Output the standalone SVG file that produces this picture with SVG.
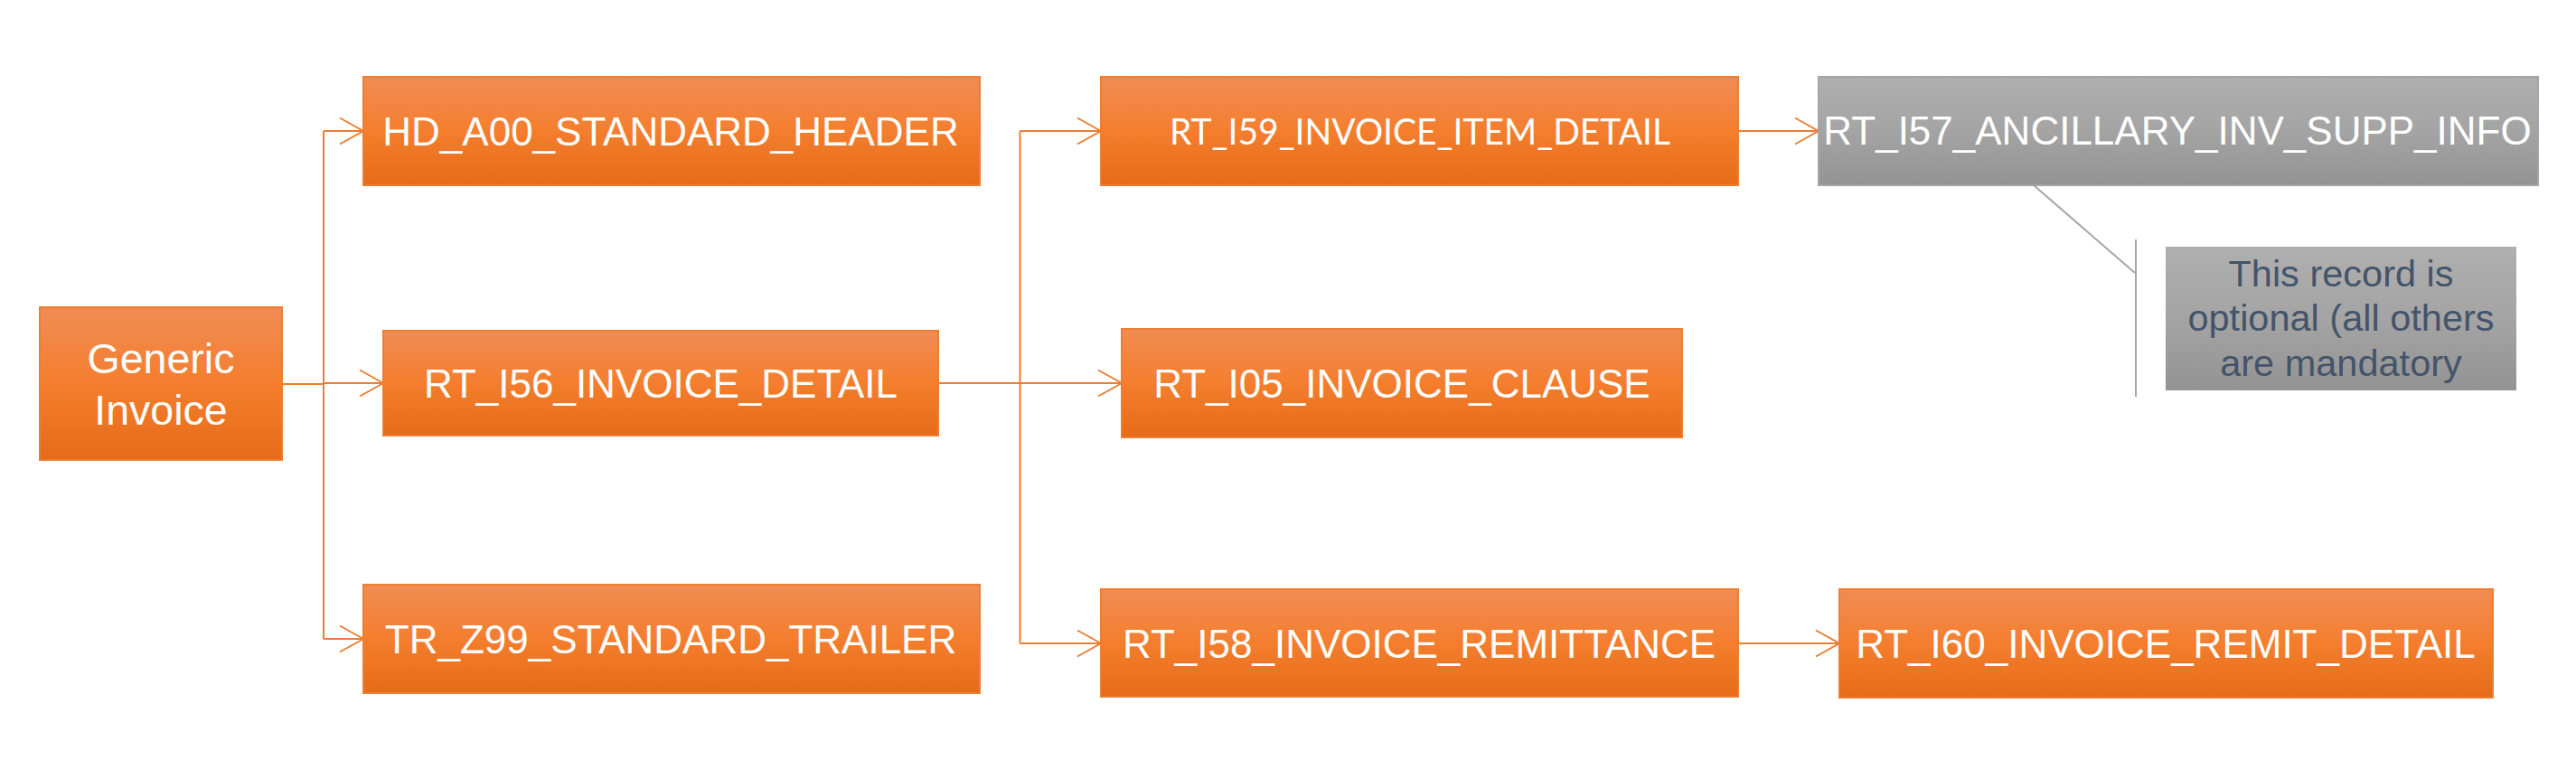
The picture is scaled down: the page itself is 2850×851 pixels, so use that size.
<svg xmlns="http://www.w3.org/2000/svg" width="2850" height="851" viewBox="0 0 2850 851">
<defs>
<linearGradient id="gOr" x1="0" y1="0" x2="0" y2="1">
<stop offset="0" stop-color="#f18c55"/>
<stop offset="0.5" stop-color="#f47e2e"/>
<stop offset="1" stop-color="#e56b17"/>
</linearGradient>
<linearGradient id="gGr" x1="0" y1="0" x2="0" y2="1">
<stop offset="0" stop-color="#afafaf"/>
<stop offset="0.5" stop-color="#a4a4a4"/>
<stop offset="1" stop-color="#939393"/>
</linearGradient>
<marker id="arr" markerUnits="userSpaceOnUse" viewBox="-30 -17 32 34" markerWidth="32" markerHeight="34" refX="0" refY="0" orient="auto">
<path d="M-26,-14.5 L0,0 L-26,14.5" fill="none" stroke="#ed7d31" stroke-width="2"/>
</marker>
<style>
.box{fill:url(#gOr);stroke:#ed7d31;stroke-width:2}
.gbox{fill:url(#gGr);stroke:#a5a5a5;stroke-width:2}
.nbox{fill:url(#gGr)}
.t{font-family:"Liberation Sans",Arial,sans-serif;font-size:44px;fill:#ffffff;text-anchor:middle}
.tc{font-family:Lato,"Open Sans",sans-serif;font-size:41px;fill:#ffffff;text-anchor:middle}
.tn{font-family:"Liberation Sans",Arial,sans-serif;font-size:41.5px;fill:#44546a;text-anchor:middle}
.c{fill:none;stroke:#ed7d31;stroke-width:2}
.ca{fill:none;stroke:#ed7d31;stroke-width:2;marker-end:url(#arr)}
.g{fill:none;stroke:#a6a6a6;stroke-width:2}
</style>
</defs>
<rect width="2850" height="851" fill="#ffffff"/>
<g id="connectors">
<path class="c" d="M312,425 H358"/>
<path class="c" d="M358,145 V707"/>
<path class="ca" d="M358,145 H402"/>
<path class="ca" d="M358,424 H424"/>
<path class="ca" d="M358,707 H402"/>
<path class="c" d="M1038,424 H1128.5"/>
<path class="c" d="M1128.5,145 V712"/>
<path class="ca" d="M1128.5,145 H1218"/>
<path class="ca" d="M1128.5,424 H1241"/>
<path class="ca" d="M1128.5,712 H1218"/>
<path class="ca" d="M1923,145 H2012"/>
<path class="ca" d="M1923,712 H2035"/>
<path class="g" d="M2250,205 L2362,302"/>
<path class="g" d="M2363,265 V439"/>
</g>
<g id="generic-invoice">
<rect class="box" x="44" y="340" width="268" height="169"/>
<text class="t" style="font-size:46.5px" x="178" y="412.5">Generic</text>
<text class="t" style="font-size:46.5px" x="178" y="469.5">Invoice</text>
</g>
<g id="hd-a00">
<rect class="box" x="402" y="85" width="682" height="120"/>
<text class="t" x="742" y="161">HD_A00_STANDARD_HEADER</text>
</g>
<g id="rt-i56">
<rect class="box" x="424" y="366" width="614" height="116"/>
<text class="t" x="731" y="440">RT_I56_INVOICE_DETAIL</text>
</g>
<g id="tr-z99">
<rect class="box" x="402" y="647" width="682" height="120"/>
<text class="t" x="742" y="723">TR_Z99_STANDARD_TRAILER</text>
</g>
<g id="rt-i59">
<rect class="box" x="1218" y="85" width="705" height="120"/>
<text class="tc" x="1571" y="160" textLength="554" lengthAdjust="spacingAndGlyphs">RT_I59_INVOICE_ITEM_DETAIL</text>
</g>
<g id="rt-i05">
<rect class="box" x="1241" y="364" width="620" height="120"/>
<text class="t" x="1551" y="440">RT_I05_INVOICE_CLAUSE</text>
</g>
<g id="rt-i58">
<rect class="box" x="1218" y="652" width="705" height="119"/>
<text class="t" x="1570" y="728">RT_I58_INVOICE_REMITTANCE</text>
</g>
<g id="rt-i57">
<rect class="gbox" x="2012" y="85" width="796" height="120"/>
<text class="t" x="2409" y="160">RT_I57_ANCILLARY_INV_SUPP_INFO</text>
</g>
<g id="rt-i60">
<rect class="box" x="2035" y="652" width="723" height="120"/>
<text class="t" x="2396" y="728">RT_I60_INVOICE_REMIT_DETAIL</text>
</g>
<g id="note">
<rect class="nbox" x="2396" y="273" width="388" height="159"/>
<text class="tn" x="2590" y="317">This record is</text>
<text class="tn" x="2590" y="366">optional (all others</text>
<text class="tn" x="2590" y="416">are mandatory</text>
</g>
</svg>
